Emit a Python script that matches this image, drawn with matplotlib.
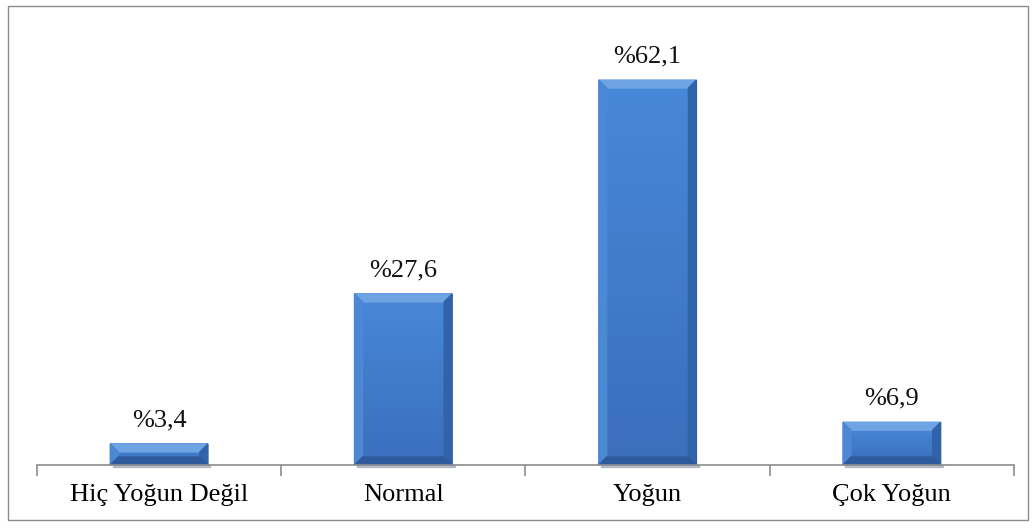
import numpy as np
import matplotlib.pyplot as plt
from matplotlib.colors import LinearSegmentedColormap
from matplotlib.patches import Polygon, Rectangle

categories = ['Hiç Yoğun Değil', 'Normal', 'Yoğun', 'Çok Yoğun']
values = [3.4, 27.6, 62.1, 6.9]
labels = ['%3,4', '%27,6', '%62,1', '%6,9']

plt.rcParams['font.family'] = ['Liberation Serif', 'DejaVu Serif']

fig = plt.figure(figsize=(10.36, 5.29), dpi=100)
ax = fig.add_axes([0.0357, 0.121, 0.943, 0.832])

# outer frame of the chart area
fig.patches.append(Rectangle((0.008, 0.017), 0.984, 0.972, transform=fig.transFigure,
                             fill=False, edgecolor='#8c8c8c', linewidth=1.0))

x = np.arange(len(categories))
width = 0.4
ax.set_xlim(-0.5, len(categories) - 0.5)
ax.set_ylim(0, 71)

bars = ax.bar(x, values, width=width, color='#3f7fd2', edgecolor='none', zorder=2)

# bevel size in data units (~8 px)
fig.canvas.draw()
bbox = ax.get_window_extent()
dx = 8 * (ax.get_xlim()[1] - ax.get_xlim()[0]) / bbox.width
dy = 8 * (ax.get_ylim()[1] - ax.get_ylim()[0]) / bbox.height

face_cmap = LinearSegmentedColormap.from_list('face', ['#3a6fbc', '#4888d8'])
grad = np.linspace(0, 1, 64).reshape(-1, 1)

for b in bars:
    x0, y0 = b.get_x(), b.get_y()
    x1, y1 = x0 + b.get_width(), y0 + b.get_height()
    e = min(dy, b.get_height() / 2.5)
    f = dx
    # vertical gradient face
    ax.imshow(grad, extent=(x0, x1, y0, y1), origin='lower', aspect='auto',
              cmap=face_cmap, zorder=2.1)
    # soft shadow beneath the bar
    ax.add_patch(Rectangle((x0 + f * 0.3, y0 - dy * 0.25), x1 - x0, dy * 0.25,
                           color='#7f8fa8', alpha=0.5, zorder=1.9, clip_on=False))
    top = Polygon([(x0, y1), (x1, y1), (x1 - f, y1 - e), (x0 + f, y1 - e)],
                  color='#6ea3e4', zorder=2.2)
    left = Polygon([(x0, y0), (x0, y1), (x0 + f, y1 - e), (x0 + f, y0 + e)],
                   color='#4c88d4', zorder=2.2)
    right = Polygon([(x1, y0), (x1, y1), (x1 - f, y1 - e), (x1 - f, y0 + e)],
                    color='#3063aa', zorder=2.2)
    bottom = Polygon([(x0, y0), (x1, y0), (x1 - f, y0 + e), (x0 + f, y0 + e)],
                     color='#2f5b9c', zorder=2.2)
    for p in (top, left, right, bottom):
        ax.add_patch(p)

for xi, v, t in zip(x, values, labels):
    ax.annotate(t, (xi, v), xytext=(0, 12.5), textcoords='offset points',
                ha='center', va='baseline', fontsize=19, color='#111111')

# axis: only the bottom line with ticks between categories
for s in ('top', 'right', 'left'):
    ax.spines[s].set_visible(False)
ax.spines['bottom'].set_color('#8c8c8c')
ax.spines['bottom'].set_linewidth(1.2)
ax.set_yticks([])
ax.set_xticks(np.arange(-0.5, len(categories)), minor=False)
ax.set_xticklabels([])
ax.tick_params(axis='x', direction='out', length=8, width=1.2, color='#8c8c8c')
ax.set_xticks(x, minor=True)
ax.set_xticklabels(categories, minor=True, fontsize=19)
ax.tick_params(axis='x', which='minor', length=0, pad=14)
ax.patch.set_visible(False)

fig.savefig('out.png', dpi=100)
